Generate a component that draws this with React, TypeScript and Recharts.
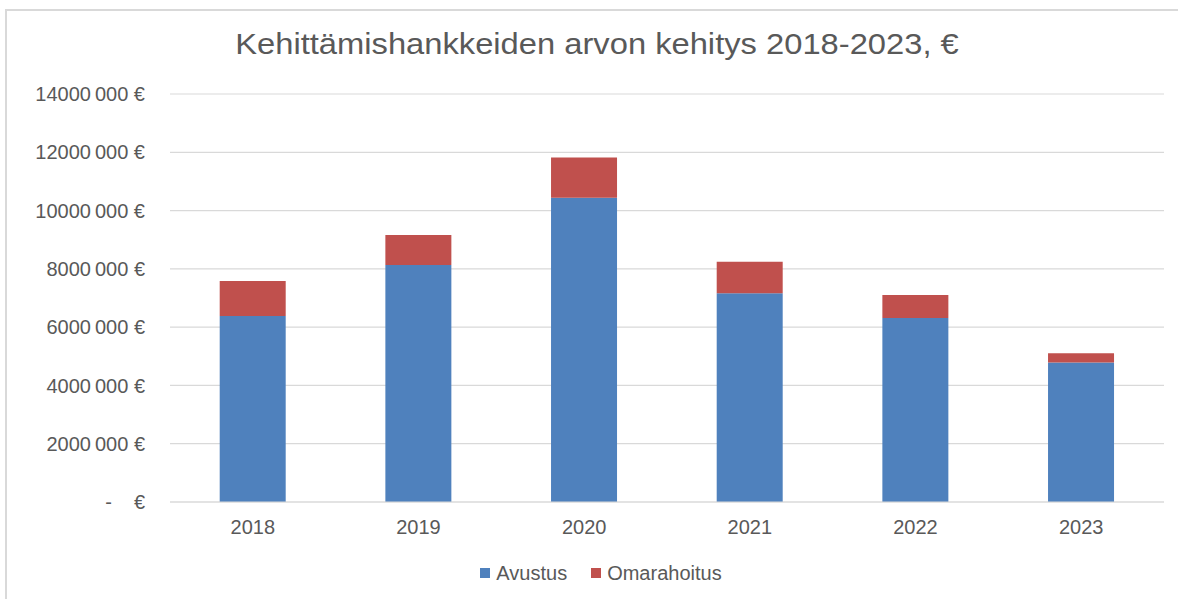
import React from 'react';
import { BarChart, Bar, XAxis, YAxis, CartesianGrid, Legend } from 'recharts';

const years = ['2018', '2019', '2020', '2021', '2022', '2023'];
const avustus = [6380000, 8130000, 10440000, 7160000, 6310000, 4790000];
const omarahoitus = [1200000, 1030000, 1380000, 1080000, 790000, 310000];
const yTicks = [0, 2000000, 4000000, 6000000, 8000000, 10000000, 12000000, 14000000];
const seriesNames = ['Avustus', 'Omarahoitus'];
const seriesColors = ['#4F81BD', '#C0504D'];

const data = years.map((y, i) => ({ year: y, Avustus: avustus[i], Omarahoitus: omarahoitus[i] }));

const FONT = '"Liberation Sans", Arial, sans-serif';
const TEXT = '#595959';
const GRID = '#d9d9d9';

const YTick = (props: any) => {
  const { x, y, payload } = props;
  const v = payload.value as number;
  if (v === 0) {
    return (
      <g>
        <text x={x - 33} y={y} dy="0.355em" textAnchor="end" fill={TEXT} fontSize={20} fontFamily={FONT}>-</text>
        <text x={x} y={y} dy="0.355em" textAnchor="end" fill={TEXT} fontSize={20} fontFamily={FONT}>€</text>
      </g>
    );
  }
  return (
    <text x={x} y={y} dy="0.355em" textAnchor="end" fill={TEXT} fontSize={20} fontFamily={FONT}>
      {`${v / 1000000 * 1000}\u2009000 €`}
    </text>
  );
};

const LegendContent = () => (
  <div style={{ position: 'relative', height: 0 }}>
    <div
      style={{
        position: 'absolute',
        left: 0,
        top: 0,
        width: 1178,
        display: 'flex',
        justifyContent: 'center',
        paddingLeft: 24,
        boxSizing: 'border-box',
        fontFamily: FONT,
        fontSize: 20,
        lineHeight: '20px',
        color: TEXT,
      }}
    >
      {seriesNames.map((n, i) => (
        <div key={n} style={{ display: 'flex', alignItems: 'center', marginRight: i === 0 ? 24 : 0 }}>
          <span style={{ display: 'inline-block', width: 10, height: 10, background: seriesColors[i], marginRight: 6 }} />
          <span>{n}</span>
        </div>
      ))}
    </div>
  </div>
);

export default function App() {
  return (
    <div style={{ position: 'absolute', left: 0, top: 0, width: 1178, height: 599, background: '#fff', overflow: 'hidden' }}>
      <div
        style={{
          position: 'absolute',
          left: 5,
          top: 9,
          right: 0,
          bottom: 0,
          borderTop: `2px solid ${GRID}`,
          borderLeft: `2px solid ${GRID}`,
        }}
      />
      <div
        style={{
          position: 'absolute',
          left: 0,
          top: 28.5,
          width: 1178,
          paddingLeft: 16,
          boxSizing: 'border-box',
          textAlign: 'center',
          fontFamily: FONT,
          fontSize: 30,
          lineHeight: '30px',
          color: TEXT,
          transform: 'scaleX(1.09)',
          transformOrigin: '597px 0',
          whiteSpace: 'nowrap',
        }}
      >
        Kehittämishankkeiden arvon kehitys 2018-2023, €
      </div>
      <div style={{ position: 'absolute', left: 0, top: 0 }}>
        <BarChart
          width={1178}
          height={599}
          data={data}
          margin={{ top: 94, right: 14, bottom: 67, left: 0 }}
          barCategoryGap="30%"
        >
          <CartesianGrid vertical={false} stroke={GRID} strokeWidth={1.2} />
          <XAxis
            dataKey="year"
            tickLine={false}
            tickSize={0}
            tickMargin={18}
            axisLine={{ stroke: GRID, strokeWidth: 1.2 }}
            tick={{ fill: TEXT, fontSize: 20, fontFamily: FONT }}
          />
          <YAxis
            width={170}
            domain={[0, 14000000]}
            ticks={yTicks}
            interval={0}
            tickLine={false}
            axisLine={false}
            tickSize={0}
            tickMargin={25}
            tick={<YTick />}
          />
          <Legend content={<LegendContent />} wrapperStyle={{ top: 563, left: 0, width: 1178, height: 0 }} />
          <Bar dataKey="Avustus" stackId="a" fill={seriesColors[0]} isAnimationActive={false} />
          <Bar dataKey="Omarahoitus" stackId="a" fill={seriesColors[1]} isAnimationActive={false} />
        </BarChart>
      </div>
    </div>
  );
}
